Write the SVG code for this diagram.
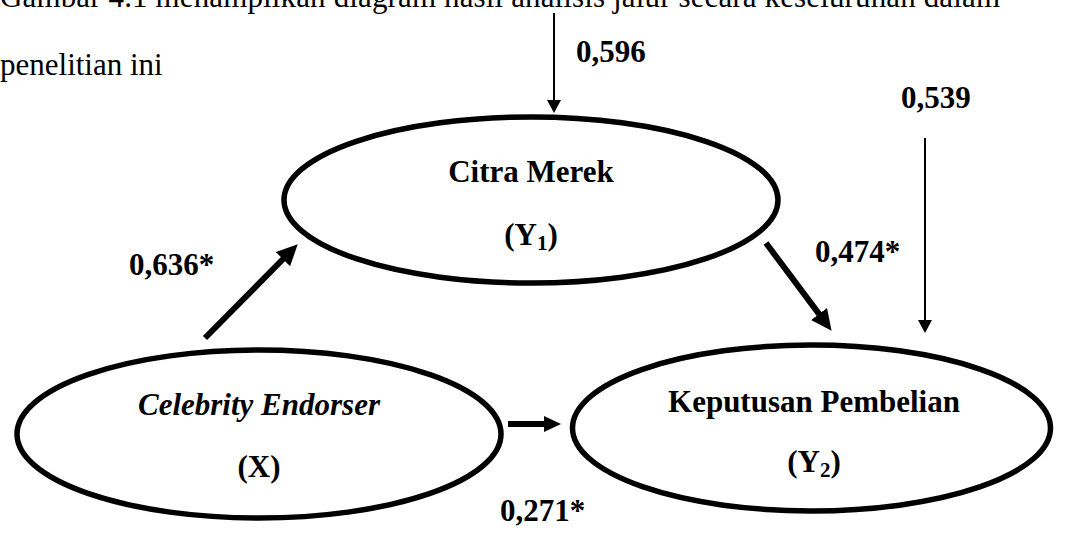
<svg xmlns="http://www.w3.org/2000/svg" width="1067" height="536" viewBox="0 0 1067 536">
  <defs>
    <style>
      .body { font-family: "Liberation Serif", "Times New Roman", serif; font-size: 31px; fill: #000; }
      .lbl { font-family: "Liberation Serif", "Times New Roman", serif; font-size: 31px; font-weight: bold; fill: #000; }
      .node ellipse { fill: #fff; stroke: #000; stroke-width: 5.5; }
      .thick { stroke: #000; stroke-width: 6; fill: none; }
      .thin { stroke: #000; stroke-width: 2; fill: none; }
    </style>
    <marker id="headThick" markerUnits="userSpaceOnUse" markerWidth="22" markerHeight="20" refX="8" refY="10" orient="auto">
      <path d="M0,0 L21,10 L0,20 z" fill="#000"/>
    </marker>
    <marker id="headSmall" markerUnits="userSpaceOnUse" markerWidth="18" markerHeight="16" refX="5" refY="8" orient="auto">
      <path d="M0,0 L17,8 L0,16 z" fill="#000"/>
    </marker>
    <marker id="headThin" markerUnits="userSpaceOnUse" markerWidth="14" markerHeight="14" refX="6" refY="7" orient="auto">
      <path d="M0,0 L13,7 L0,14 z" fill="#000"/>
    </marker>
  </defs>
  <rect width="1067" height="536" fill="#fff"/>

  <text class="body" x="0" y="7" textLength="1000" lengthAdjust="spacing">Gambar 4.1 menampilkan diagram hasil analisis jalur secara keseluruhan dalam</text>
  <text class="body" x="0" y="75">penelitian ini</text>

  <g id="connectors">
    <line class="thin" x1="554" y1="13" x2="554" y2="106" marker-end="url(#headThin)"/>
    <line class="thin" x1="925" y1="138" x2="925" y2="326" marker-end="url(#headThin)"/>
    <line class="thick" x1="205" y1="338" x2="288.6" y2="253.5" marker-end="url(#headThick)"/>
    <line class="thick" x1="766" y1="243" x2="823.8" y2="320.4" marker-end="url(#headThick)"/>
    <line class="thick" x1="508" y1="424" x2="549" y2="424" marker-end="url(#headSmall)"/>
    <text class="lbl" x="576" y="62">0,596</text>
    <text class="lbl" x="901" y="108">0,539</text>
    <text class="lbl" x="129" y="275">0,636*</text>
    <text class="lbl" x="815" y="262">0,474*</text>
    <text class="lbl" x="500" y="521">0,271*</text>
  </g>

  <g id="node-citra" class="node">
    <ellipse cx="531" cy="200" rx="247" ry="83"/>
    <text class="lbl" x="531" y="182" text-anchor="middle" font-size="32">Citra Merek</text>
    <text class="lbl" x="531" y="245" text-anchor="middle">(Y<tspan font-size="21" dy="5">1</tspan><tspan dy="-5">)</tspan></text>
  </g>

  <g id="node-celebrity" class="node">
    <ellipse cx="259" cy="434" rx="242" ry="84"/>
    <text class="lbl" x="259" y="415" text-anchor="middle" font-style="italic">Celebrity Endorser</text>
    <text class="lbl" x="259" y="477" text-anchor="middle">(X)</text>
  </g>

  <g id="node-keputusan" class="node">
    <ellipse cx="811.5" cy="428" rx="239" ry="83"/>
    <text class="lbl" x="814" y="412" text-anchor="middle">Keputusan Pembelian</text>
    <text class="lbl" x="814" y="472" text-anchor="middle">(Y<tspan font-size="21" dy="5">2</tspan><tspan dy="-5">)</tspan></text>
  </g>
</svg>
